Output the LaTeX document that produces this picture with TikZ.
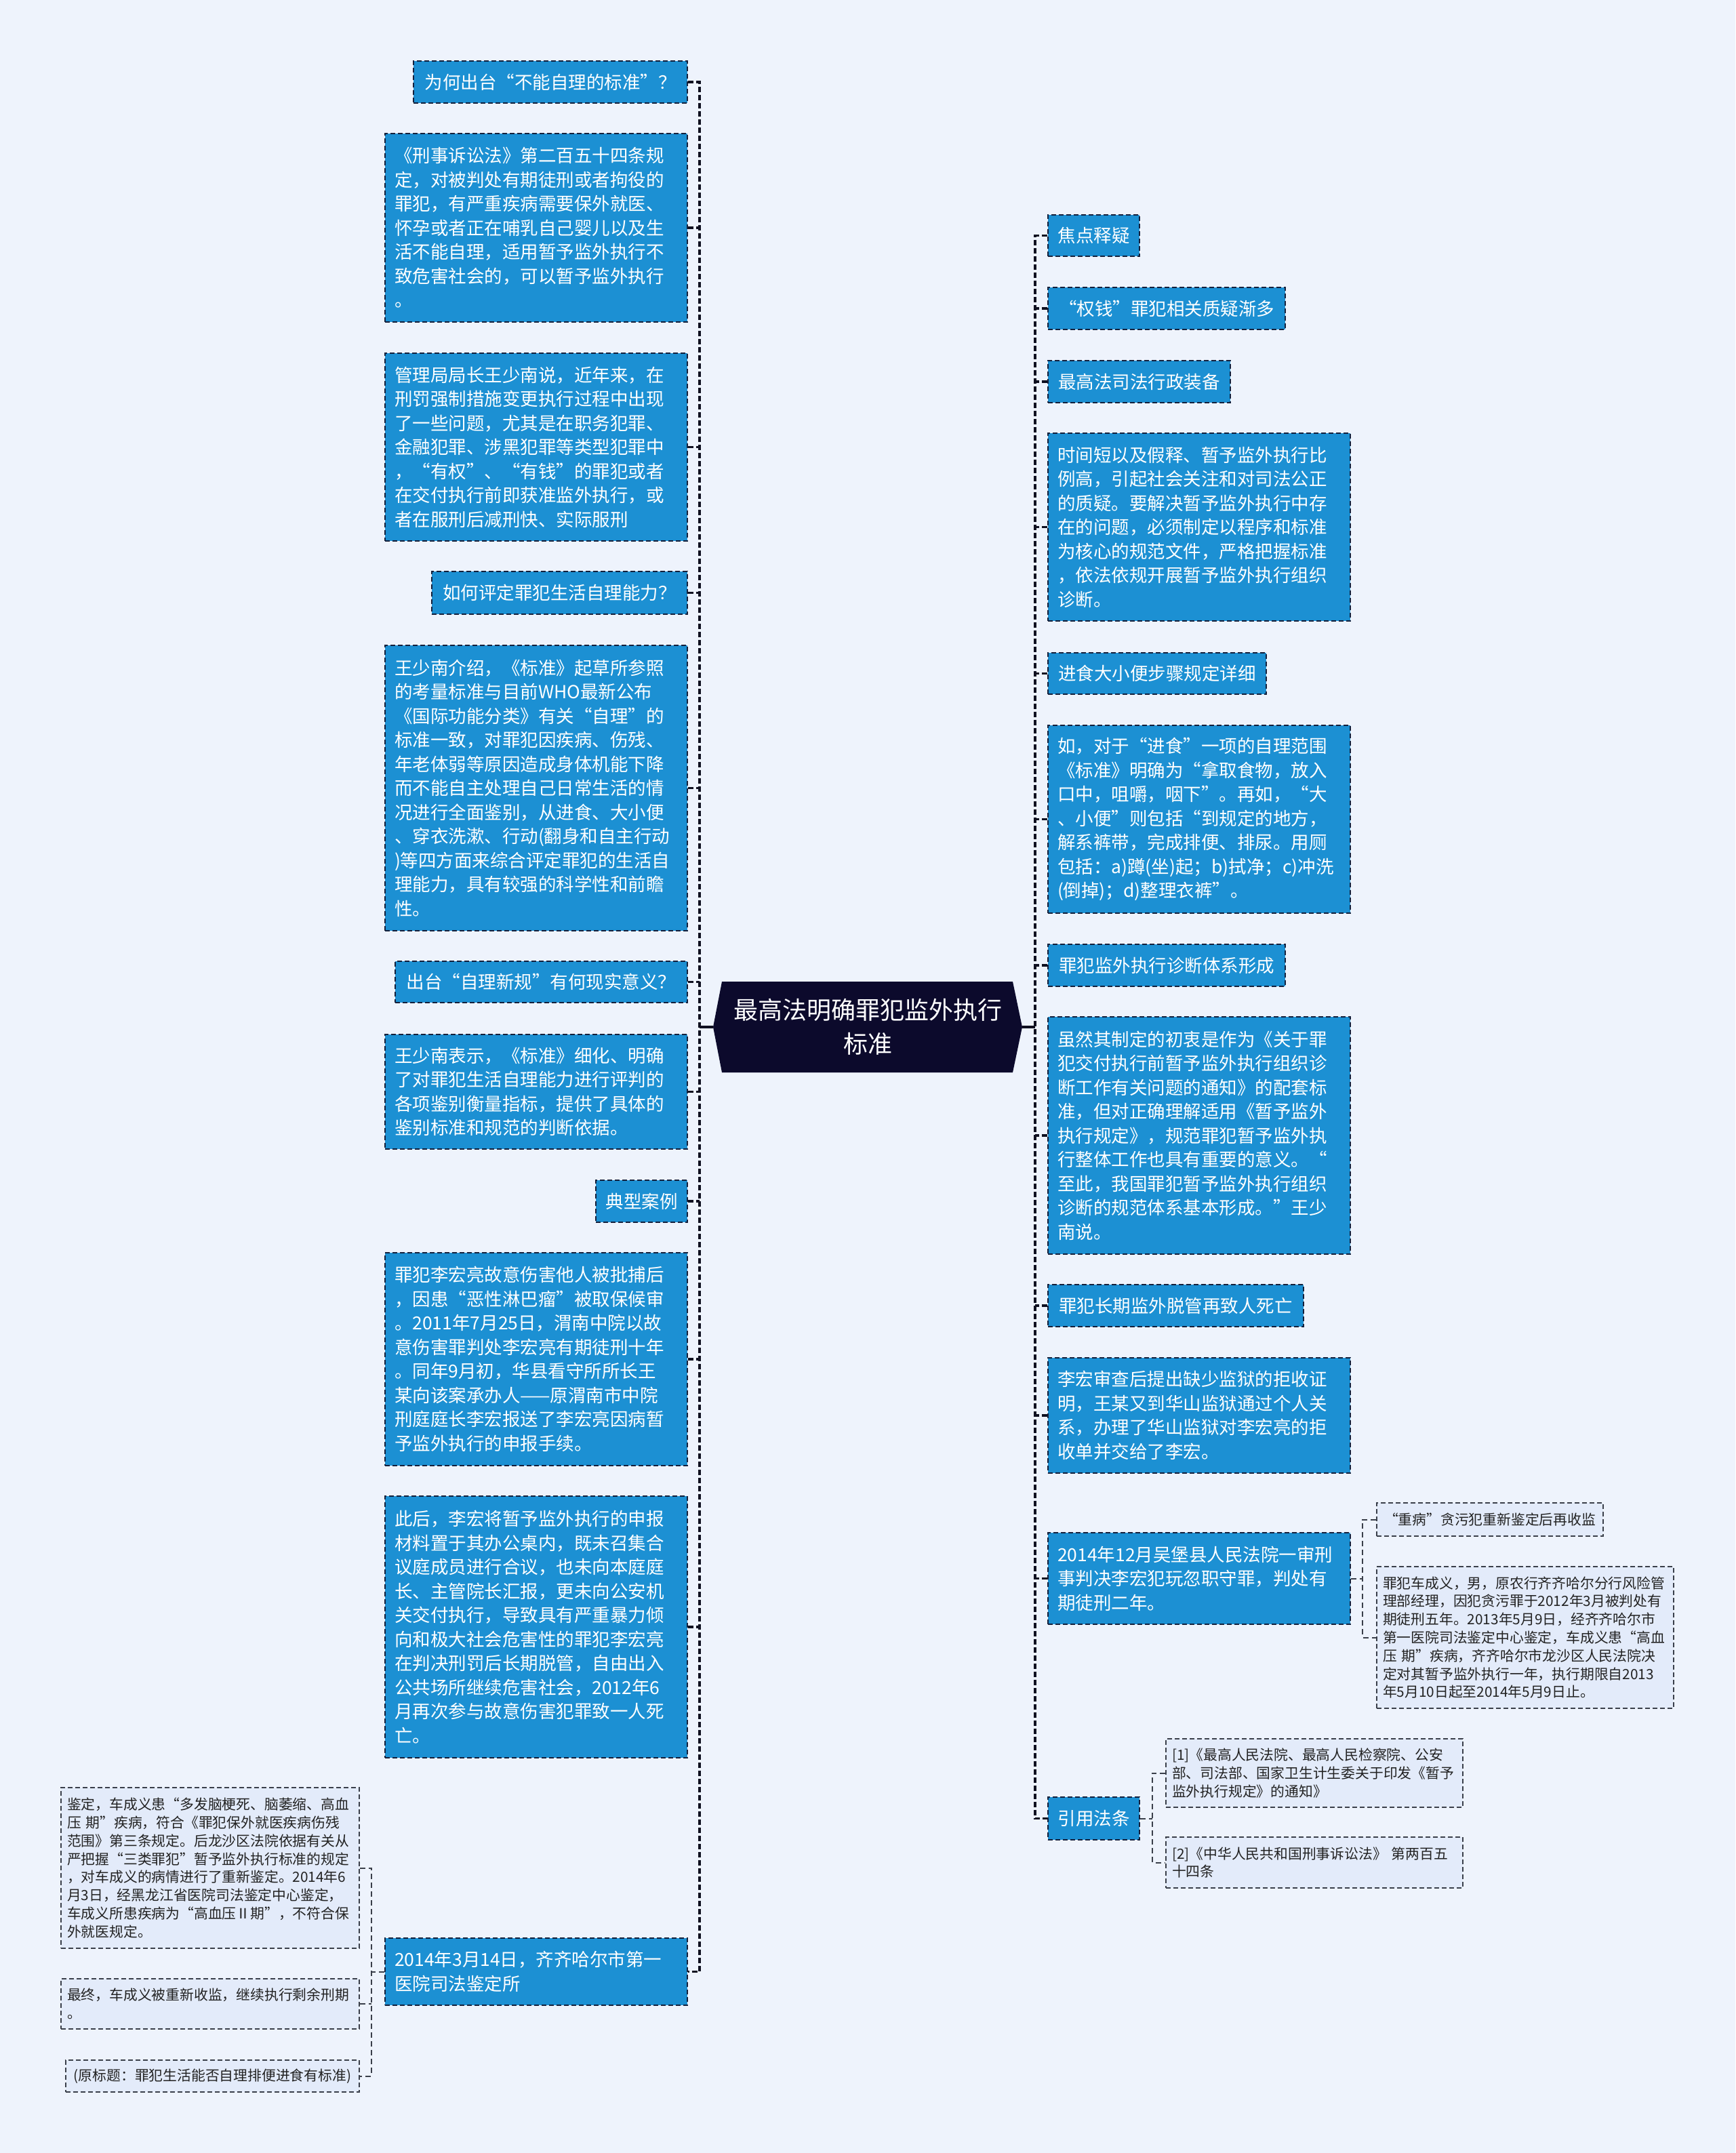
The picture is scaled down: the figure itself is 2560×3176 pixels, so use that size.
\documentclass[tikz,border=0pt]{standalone}
\usepackage{fontspec}
\setmainfont{Noto Sans CJK SC}
\definecolor{bgcol}{HTML}{EEF3FC}
\definecolor{boxblue}{HTML}{1C90D3}
\definecolor{bordercol}{HTML}{14203C}
\definecolor{boxlight}{HTML}{E3EBFA}
\definecolor{lightborder}{HTML}{3A3F4A}
\definecolor{textdark}{HTML}{222222}
\definecolor{centercol}{HTML}{0C0A2C}
\definecolor{linecol}{HTML}{0F1020}
\tikzset{
  bluebox/.style={draw=bordercol, line width=2pt, dash pattern=on 7pt off 4pt, fill=boxblue, text=white,
    font=\fontsize{26.5}{35.5}\selectfont, inner xsep=14pt, inner ysep=0pt},
  multi/.style={text width=418pt, align=left, minimum width=446pt},
  lightbox/.style={draw=lightborder, line width=1.8pt, dash pattern=on 7pt off 4pt, fill=boxlight, text=textdark,
    font=\fontsize{20.8}{26.8}\selectfont, inner xsep=9pt, inner ysep=0pt},
  lmulti/.style={text width=420pt, align=left},
  spine/.style={draw=linecol, line width=3.2pt, dash pattern=on 8pt off 4pt},
  mainline/.style={draw=linecol, line width=3.5pt},
  subline/.style={draw=lightborder, line width=2pt, dash pattern=on 8pt off 5pt},
}
\begin{document}
\begin{tikzpicture}[x=1pt,y=-1pt]
\useasboundingbox (0,0) rectangle (2560,3176);
\fill[bgcol] (0,0) rectangle (2560,3176);

% central topic
\coordinate (Cw) at (1052,1515);
\coordinate (Ce) at (1508,1515);
\fill[centercol] (Cw) -- (1065,1448) -- (1494,1448) -- (Ce) -- (1494,1582) -- (1065,1582) -- cycle;
\node[font=\fontsize{36}{50}\selectfont, text=white, align=center] (C) at (1280,1515) {最高法明确罪犯监外执行\\标准};

% left branch
\node[bluebox, minimum width=404pt, minimum height=62pt] (L1) at (812,121) {为何出台“不能自理的标准”？};
\node[bluebox, multi, minimum height=278pt] (L2) at (791,336) {《刑事诉讼法》第二百五十四条规\\定，对被判处有期徒刑或者拘役的\\罪犯，有严重疾病需要保外就医、\\怀孕或者正在哺乳自己婴儿以及生\\活不能自理，适用暂予监外执行不\\致危害社会的，可以暂予监外执行\\。};
\node[bluebox, multi, minimum height=277pt] (L3) at (791,659.5) {管理局局长王少南说，近年来，在\\刑罚强制措施变更执行过程中出现\\了一些问题，尤其是在职务犯罪、\\金融犯罪、涉黑犯罪等类型犯罪中\\，“有权”、“有钱”的罪犯或者\\在交付执行前即获准监外执行，或\\者在服刑后减刑快、实际服刑};
\node[bluebox, minimum width=377pt, minimum height=63pt] (L4) at (825.5,874.5) {如何评定罪犯生活自理能力？};
\node[bluebox, multi, minimum height=421pt] (L5) at (791,1162.5) {王少南介绍，《标准》起草所参照\\的考量标准与目前WHO最新公布\\《国际功能分类》有关“自理”的\\标准一致，对罪犯因疾病、伤残、\\年老体弱等原因造成身体机能下降\\而不能自主处理自己日常生活的情\\况进行全面鉴别，从进食、大小便\\、穿衣洗漱、行动(翻身和自主行动\\)等四方面来综合评定罪犯的生活自\\理能力，具有较强的科学性和前瞻\\性。};
\node[bluebox, minimum width=431pt, minimum height=61pt] (L6) at (798.5,1448.5) {出台“自理新规”有何现实意义？};
\node[bluebox, multi, minimum height=169pt] (L7) at (791,1610.5) {王少南表示，《标准》细化、明确\\了对罪犯生活自理能力进行评判的\\各项鉴别衡量指标，提供了具体的\\鉴别标准和规范的判断依据。};
\node[bluebox, minimum width=135pt, minimum height=62pt] (L8) at (946.5,1772) {典型案例};
\node[bluebox, multi, minimum height=314pt] (L9) at (791,2005) {罪犯李宏亮故意伤害他人被批捕后\\，因患“恶性淋巴瘤”被取保候审\\。2011年7月25日，渭南中院以故\\意伤害罪判处李宏亮有期徒刑十年\\。同年9月初，华县看守所所长王\\某向该案承办人——原渭南市中院\\刑庭庭长李宏报送了李宏亮因病暂\\予监外执行的申报手续。};
\node[bluebox, multi, minimum height=386pt] (L10) at (791,2400) {此后，李宏将暂予监外执行的申报\\材料置于其办公桌内，既未召集合\\议庭成员进行合议，也未向本庭庭\\长、主管院长汇报，更未向公安机\\关交付执行，导致具有严重暴力倾\\向和极大社会危害性的罪犯李宏亮\\在判决刑罚后长期脱管，自由出入\\公共场所继续危害社会，2012年6\\月再次参与故意伤害犯罪致一人死\\亡。};
\node[bluebox, multi, minimum height=99pt] (L11) at (791,2908.5) {2014年3月14日，齐齐哈尔市第一\\医院司法鉴定所};

% children of L11
\node[lightbox, text width=422pt, align=left, minimum height=237pt] (C1) at (310,2755.5) {鉴定，车成义患“多发脑梗死、脑萎缩、高血\\压 期”疾病，符合《罪犯保外就医疾病伤残\\范围》第三条规定。后龙沙区法院依据有关从\\严把握“三类罪犯”暂予监外执行标准的规定\\，对车成义的病情进行了重新鉴定。2014年6\\月3日，经黑龙江省医院司法鉴定中心鉴定，\\车成义所患疾病为“高血压Ⅱ期”，不符合保\\外就医规定。};
\node[lightbox, text width=422pt, align=left, minimum height=74pt] (C2) at (310,2956) {最终，车成义被重新收监，继续执行剩余刑期\\。};
\node[lightbox, minimum width=433pt, minimum height=47pt] (C3) at (313.5,3062.5) {(原标题：罪犯生活能否自理排便进食有标准)};

% right branch
\node[bluebox, minimum width=135pt, minimum height=61pt] (R1) at (1613.5,347.5) {焦点释疑};
\node[bluebox, minimum width=350pt, minimum height=62pt] (R2) at (1721,455) {“权钱”罪犯相关质疑渐多};
\node[bluebox, minimum width=269pt, minimum height=62pt] (R3) at (1680.5,563) {最高法司法行政装备};
\node[bluebox, multi, minimum height=277pt] (R4) at (1769,777.5) {时间短以及假释、暂予监外执行比\\例高，引起社会关注和对司法公正\\的质疑。要解决暂予监外执行中存\\在的问题，必须制定以程序和标准\\为核心的规范文件，严格把握标准\\，依法依规开展暂予监外执行组织\\诊断。};
\node[bluebox, minimum width=322pt, minimum height=61pt] (R5) at (1707,993.5) {进食大小便步骤规定详细};
\node[bluebox, multi, minimum height=277pt] (R6) at (1769,1208.5) {如，对于“进食”一项的自理范围\\《标准》明确为“拿取食物，放入\\口中，咀嚼，咽下”。再如，“大\\、小便”则包括“到规定的地方，\\解系裤带，完成排便、排尿。用厕\\包括：a)蹲(坐)起；b)拭净；c)冲洗\\(倒掉)；d)整理衣裤”。};
\node[bluebox, minimum width=350pt, minimum height=62pt] (R7) at (1721,1424) {罪犯监外执行诊断体系形成};
\node[bluebox, multi, minimum height=350pt] (R8) at (1769,1675) {虽然其制定的初衷是作为《关于罪\\犯交付执行前暂予监外执行组织诊\\断工作有关问题的通知》的配套标\\准，但对正确理解适用《暂予监外\\执行规定》，规范罪犯暂予监外执\\行整体工作也具有重要的意义。“\\至此，我国罪犯暂予监外执行组织\\诊断的规范体系基本形成。”王少\\南说。};
\node[bluebox, minimum width=377pt, minimum height=62pt] (R9) at (1734.5,1926) {罪犯长期监外脱管再致人死亡};
\node[bluebox, multi, minimum height=170pt] (R10) at (1769,2088) {李宏审查后提出缺少监狱的拒收证\\明，王某又到华山监狱通过个人关\\系，办理了华山监狱对李宏亮的拒\\收单并交给了李宏。};
\node[bluebox, multi, minimum height=135pt] (R11) at (1769,2328.5) {2014年12月吴堡县人民法院一审刑\\事判决李宏犯玩忽职守罪，判处有\\期徒刑二年。};
\node[bluebox, minimum width=135pt, minimum height=63pt] (R12) at (1613.5,2682.5) {引用法条};

% children of R11
\node[lightbox, minimum width=334pt, minimum height=49pt] (D1) at (2198,2241.5) {“重病”贪污犯重新鉴定后再收监};
\node[lightbox, lmulti, minimum height=209pt] (D2) at (2250,2415.5) {罪犯车成义，男，原农行齐齐哈尔分行风险管\\理部经理，因犯贪污罪于2012年3月被判处有\\期徒刑五年。2013年5月9日，经齐齐哈尔市\\第一医院司法鉴定中心鉴定，车成义患“高血\\压 期”疾病，齐齐哈尔市龙沙区人民法院决\\定对其暂予监外执行一年，执行期限自2013\\年5月10日起至2014年5月9日止。};

% children of R12
\node[lightbox, lmulti, minimum height=101pt] (E1) at (1939,2615.5) {[1]《最高人民法院、最高人民检察院、公安\\部、司法部、国家卫生计生委关于印发《暂予\\监外执行规定》的通知》};
\node[lightbox, lmulti, minimum height=75pt] (E2) at (1939,2747.5) {[2]《中华人民共和国刑事诉讼法》 第两百五\\十四条};

% connectors
\coordinate (ls) at (1032,1515);
\coordinate (rs) at (1527,1515);
\draw[mainline] (Cw) -- (ls);
\draw[mainline] (Ce) -- (rs);
\draw[spine] (L1.east) -- (L1.east -| ls) -- (L11.east -| ls) -- (L11.east);
\foreach \n in {L2,L3,L4,L5,L6,L7,L8,L9,L10}
  \draw[spine] (\n.east) -- (\n.east -| ls);
\draw[spine] (R1.west) -- (R1.west -| rs) -- (R12.west -| rs) -- (R12.west);
\foreach \n in {R2,R3,R4,R5,R6,R7,R8,R9,R10,R11}
  \draw[spine] (\n.west) -- (\n.west -| rs);

\coordinate (s1) at (548,2908);
\draw[subline] (L11.west) -- (L11.west -| s1);
\draw[subline] (C1.east) -- (C1.east -| s1) -- (C3.east -| s1) -- (C3.east);
\draw[subline] (C2.east) -- (C2.east -| s1);

\coordinate (s2) at (2010,2328);
\draw[subline] (R11.east) -- (R11.east -| s2);
\draw[subline] (D1.west) -- (D1.west -| s2) -- (D2.west -| s2) -- (D2.west);

\coordinate (s3) at (1700,2682);
\draw[subline] (R12.east) -- (R12.east -| s3);
\draw[subline] (E1.west) -- (E1.west -| s3) -- (E2.west -| s3) -- (E2.west);
\end{tikzpicture}
\end{document}
